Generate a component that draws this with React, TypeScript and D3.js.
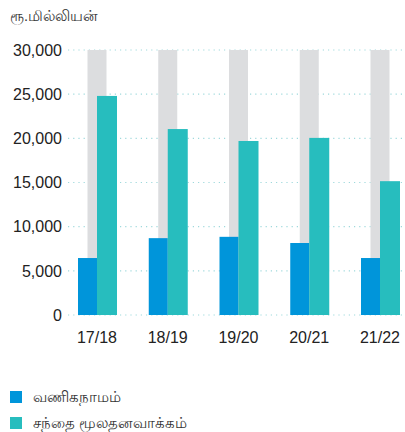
import React from "react";
import * as d3 from "d3";

const categories = ["17/18", "18/19", "19/20", "20/21", "21/22"];
const tradingValues = [6450, 8700, 8850, 8150, 6450];
const marketCap = [24800, 21050, 19700, 20050, 15150];
const maxValues = [30000, 30000, 30000, 30000, 30000];
const yTicks = [0, 5000, 10000, 15000, 20000, 25000, 30000];
const legendLabels = ["வணிகநாமம்", "சந்தை மூலதனவாக்கம்"];
const yTitle = "ரூ.மில்லியன்";

const BLUE = "#0095DA";
const TEAL = "#27BDBE";
const GREY = "#DCDDDF";
const FONT = "'Liberation Sans', Arial, 'Noto Sans', sans-serif";

export default function App() {
  const W = 405;
  const H = 432;
  const x = d3.scalePoint<string>().domain(categories).range([97, 380]);
  const y = d3.scaleLinear().domain([0, 30000]).range([315, 50]);
  const fmt = d3.format(",");

  return (
    <svg
      width={W}
      height={H}
      style={{ position: "absolute", left: 0, top: 0, background: "#fff" }}
      fontFamily={FONT}
    >
      <text x={10} y={21} fontSize={14.5} fill="#333">
        {yTitle}
      </text>
      {yTicks.map((t) => (
        <g key={t}>
          <line
            x1={68}
            x2={405}
            y1={y(t)}
            y2={y(t)}
            stroke="#9fd9dc"
            strokeWidth={1.2}
            strokeDasharray="1.2 4"
          />
          <text
            x={62}
            y={y(t)}
            dy="0.36em"
            textAnchor="end"
            fontSize={16}
            fill="#222"
          >
            {fmt(t)}
          </text>
        </g>
      ))}
      {categories.map((c, i) => {
        const cx = x(c) as number;
        return (
          <g key={c}>
            <rect
              x={cx - 9.5}
              width={19}
              y={y(maxValues[i])}
              height={y(0) - y(maxValues[i])}
              fill={GREY}
            />
            <rect
              x={cx - 19}
              width={19}
              y={y(tradingValues[i])}
              height={y(0) - y(tradingValues[i])}
              fill={BLUE}
            />
            <rect
              x={cx}
              width={20}
              y={y(marketCap[i])}
              height={y(0) - y(marketCap[i])}
              fill={TEAL}
            />
            <text
              x={cx}
              y={343}
              textAnchor="middle"
              fontSize={16}
              fill="#222"
            >
              {c}
            </text>
          </g>
        );
      })}
      {legendLabels.map((l, i) => (
        <g key={l}>
          <rect x={10} y={391 + i * 26} width={12} height={12} fill={i === 0 ? BLUE : TEAL} />
          <text x={33} y={402 + i * 26} fontSize={14.5} fill="#333">
            {l}
          </text>
        </g>
      ))}
    </svg>
  );
}
